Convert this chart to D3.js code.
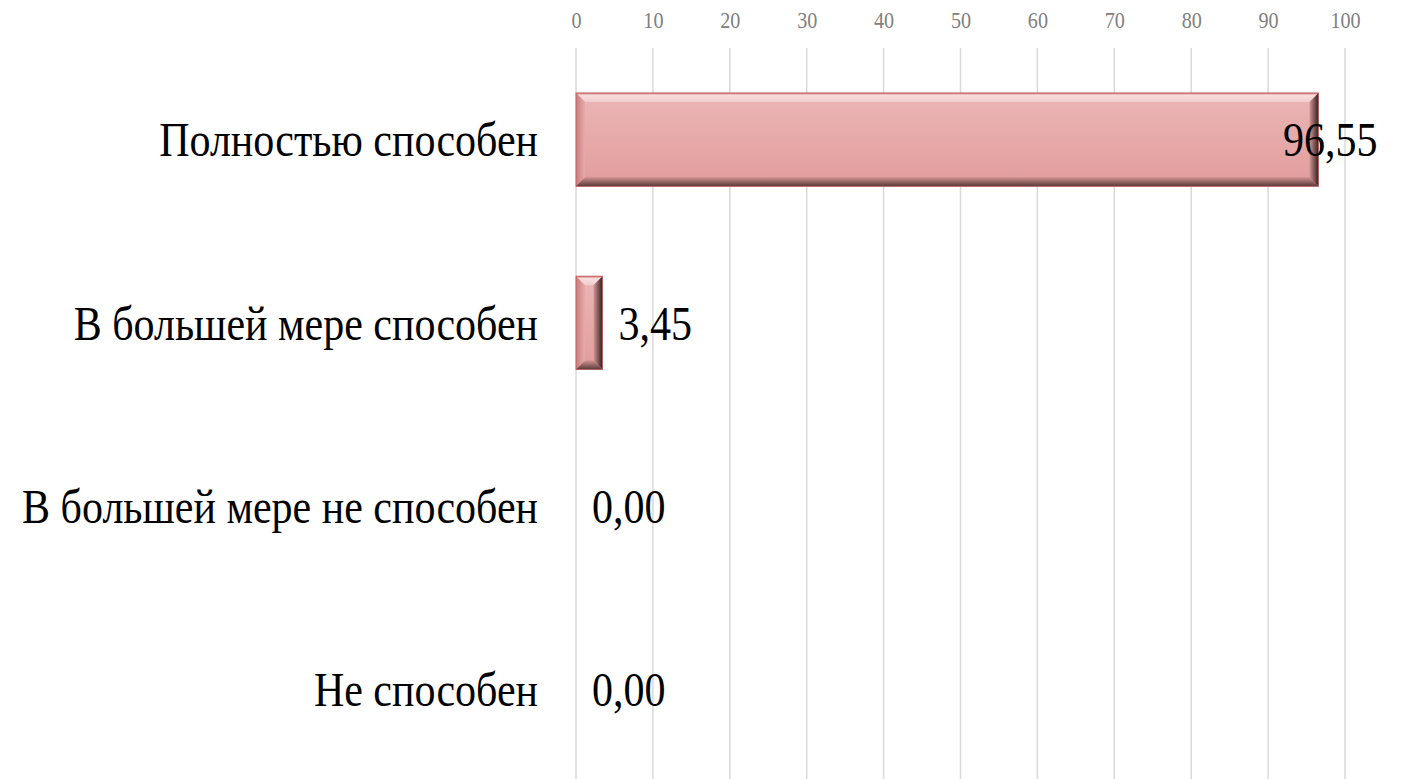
<!DOCTYPE html>
<html lang="ru">
<head>
    <meta charset="utf-8">
    <title>Chart</title>
    <script src="https://d3js.org/d3.v7.min.js" charset="utf-8"></script>
    <style>
        body { margin: 0; background: #fff; }
        text { font-family: "Liberation Serif", "Times New Roman", serif; }
    </style>
</head>
<body>
<script>
    var categories = ["Полностью способен", "В большей мере способен", "В большей мере не способен", "Не способен"]
    var values = [96.55, 3.45, 0.00, 0.00]
    var ticks = [0, 10, 20, 30, 40, 50, 60, 70, 80, 90, 100]

    var w = 1409, h = 779
    var plotLeft = 576, plotRight = 1345, plotTop = 48, plotBottom = 781
    var squeeze = 0.875   // text in the reference is a bit narrow

    var svg = d3.select("body").append("svg").attr("width", w).attr("height", h)

    var xScale = d3.scaleLinear().domain([0, 100]).range([plotLeft, plotRight])
    var yScale = d3.scaleBand().domain(categories).range([plotTop, plotBottom]).paddingInner(0.49).paddingOuter(0.245)

    var defs = svg.append("defs")
    function gradient(id, vertical, stops) {
        var g = defs.append("linearGradient").attr("id", id)
            .attr("x1", 0).attr("y1", 0).attr("x2", vertical ? 0 : 1).attr("y2", vertical ? 1 : 0)
        stops.forEach(function (s) { g.append("stop").attr("offset", s[0]).attr("stop-color", s[1]) })
    }
    gradient("face", true, [["0%", "#ebb6b6"], ["100%", "#e29c9c"]])
    gradient("bevTop", true, [["0%", "#cf6464"], ["25%", "#f9dede"], ["100%", "#f1cccc"]])
    gradient("bevLeft", false, [["0%", "#c87c7c"], ["100%", "#e8aaaa"]])
    gradient("bevBottom", true, [["0%", "#cf9090"], ["100%", "#583a3a"]])
    gradient("bevRight", false, [["0%", "#d49494"], ["100%", "#342020"]])

    // gridlines
    svg.append("g").selectAll("line").data(ticks).join("line")
        .attr("x1", function (d) { return xScale(d) }).attr("x2", function (d) { return xScale(d) })
        .attr("y1", plotTop).attr("y2", h)
        .attr("stroke", "#d9d9d9").attr("stroke-width", 1.5)

    // top axis
    var axis = svg.append("g").attr("transform", "translate(0,28)")
        .call(d3.axisTop(xScale).tickValues(ticks).tickSize(0).tickPadding(0))
    axis.select(".domain").remove()
    axis.selectAll(".tick text")
        .attr("y", 0).attr("dy", 0)
        .attr("transform", "scale(" + squeeze + ",1)")
        .attr("font-size", 23).attr("fill", "#808080")
        .attr("font-family", "Liberation Serif")

    // bars with bevel
    var bars = svg.append("g").selectAll("g").data(values).join("g")
        .attr("transform", function (d, i) { return "translate(" + plotLeft + "," + yScale(categories[i]) + ")" })

    bars.each(function (d) {
        var g = d3.select(this)
        var bw = xScale(d) - plotLeft, bh = yScale.bandwidth()
        if (bw <= 0) return
        var b = Math.min(9, bw / 2)
        g.append("rect").attr("width", bw).attr("height", bh).attr("fill", "url(#face)")
        g.append("polygon").attr("points", [[0, 0], [bw, 0], [bw - b, b], [b, b]].join(" ")).attr("fill", "url(#bevTop)")
        g.append("polygon").attr("points", [[0, 0], [b, b], [b, bh - b], [0, bh]].join(" ")).attr("fill", "url(#bevLeft)")
        g.append("polygon").attr("points", [[0, bh], [b, bh - b], [bw - b, bh - b], [bw, bh]].join(" ")).attr("fill", "url(#bevBottom)")
        g.append("polygon").attr("points", [[bw, 0], [bw, bh], [bw - b, bh - b], [bw - b, b]].join(" ")).attr("fill", "url(#bevRight)")
        g.append("rect").attr("width", bw).attr("height", bh).attr("fill", "none").attr("stroke", "#b85c5c").attr("stroke-width", 0.8)
    })

    // category labels
    svg.append("g").selectAll("text").data(categories).join("text")
        .attr("transform", function (d) { return "translate(538," + (yScale(d) + yScale.bandwidth() / 2) + ") scale(" + squeeze + ",1)" })
        .attr("dy", "0.35em")
        .attr("text-anchor", "end")
        .attr("font-size", 48)
        .text(function (d) { return d })

    // value labels
    svg.append("g").selectAll("text").data(values).join("text")
        .attr("transform", function (d, i) {
            var x = Math.min(xScale(d) + 16, 1283)
            return "translate(" + x + "," + (yScale(categories[i]) + yScale.bandwidth() / 2) + ") scale(" + squeeze + ",1)"
        })
        .attr("dy", "0.35em")
        .attr("font-size", 48)
        .text(function (d) { return d.toFixed(2).replace(".", ",") })
</script>
</body>
</html>
